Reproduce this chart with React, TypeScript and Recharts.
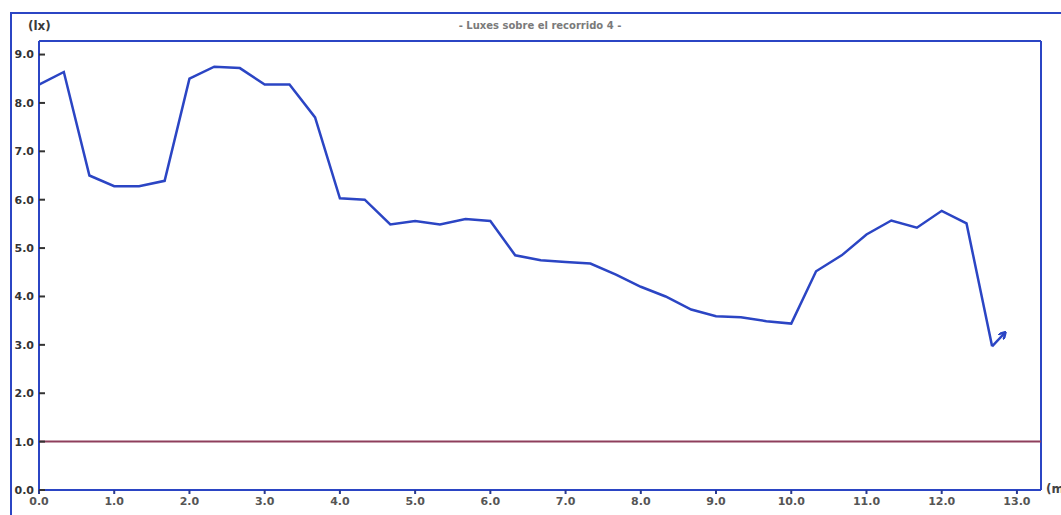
import React from 'react';
import { LineChart, Line, XAxis, YAxis, ReferenceLine } from 'recharts';

const distances = [
  0, 0.33, 0.67, 1.0, 1.33, 1.67, 2.0, 2.33, 2.67, 3.0, 3.33, 3.67, 4.0,
  4.33, 4.67, 5.0, 5.33, 5.67, 6.0, 6.33, 6.67, 7.0, 7.33, 7.67, 8.0,
  8.33, 8.67, 9.0, 9.33, 9.67, 10.0, 10.33, 10.67, 11.0, 11.33, 11.67,
  12.0, 12.33, 12.67,
];
const luxes = [
  8.38, 8.64, 6.5, 6.28, 6.28, 6.39, 8.5, 8.75, 8.72, 8.38, 8.38, 7.7, 6.03,
  6.0, 5.49, 5.56, 5.49, 5.6, 5.56, 4.85, 4.75, 4.71, 4.68, 4.45, 4.2,
  4.0, 3.73, 3.59, 3.57, 3.49, 3.44, 4.52, 4.85, 5.28, 5.57, 5.42,
  5.77, 5.51, 2.97,
];
const arrowX = [12.67, 12.84];
const arrowY = [2.97, 3.25];
const xTicks = [0, 1, 2, 3, 4, 5, 6, 7, 8, 9, 10, 11, 12, 13];
const yTicks = [0, 1, 2, 3, 4, 5, 6, 7, 8, 9];
const minLevel = 1.0;

const data = distances.map((d, i) => ({ d, lx: luxes[i] }));
const arrowData = arrowX.map((d, i) => ({ d, lx: arrowY[i] }));

const BLUE = '#2b45c4';
const X_MAX = 13.32;
const Y_MAX = 9.28;

const App: React.FC = () => {
  return (
    <div style={{ position: 'absolute', left: 0, top: 0, width: 1061, height: 515, overflow: 'hidden', background: '#fff' }}>
      {/* outer frame */}
      <div style={{ position: 'absolute', left: 10, top: 12, width: 1100, height: 600, borderLeft: `2px solid ${BLUE}`, borderTop: `2px solid ${BLUE}` }} />
      <div style={{ position: 'absolute', left: 28, top: 19, fontFamily: 'DejaVu Sans', fontSize: 12, fontWeight: 'bold', color: '#3a3a3a' }}>(lx)</div>
      <div style={{ position: 'absolute', left: 0, width: 1080, top: 20, textAlign: 'center', fontFamily: 'DejaVu Sans', fontSize: 10, fontWeight: 'bold', color: '#7a7a7a' }}>
        - Luxes sobre el recorrido 4 -
      </div>
      <div style={{ position: 'absolute', left: 1046, top: 482, fontFamily: 'DejaVu Sans', fontSize: 12, fontWeight: 'bold', color: '#444' }}>(m)</div>
      <div style={{ position: 'absolute', left: 0, top: 0 }}>
        <LineChart width={1061} height={515} margin={{ top: 41, right: 20, bottom: 0, left: 9 }}>
          <defs>
            <marker id="arrowHead" markerWidth="8" markerHeight="8" refX="6" refY="4" orient="auto" markerUnits="userSpaceOnUse">
              <path d="M0,0 L7,4 L0,8" fill="none" stroke={BLUE} strokeWidth={2.5} />
            </marker>
          </defs>
          <XAxis
            dataKey="d"
            type="number"
            domain={[0, X_MAX]}
            ticks={xTicks}
            allowDataOverflow
            height={25}
            tickFormatter={(v: number) => v.toFixed(1)}
            axisLine={{ stroke: BLUE, strokeWidth: 2 }}
            tickLine={{ stroke: '#2a3a90', strokeWidth: 2 }}
            tickSize={4}
            tickMargin={3}
            tick={{ fontFamily: 'DejaVu Sans', fontSize: 11, fill: '#555', fontWeight: 'bold' }}
          />
          <YAxis
            dataKey="lx"
            type="number"
            domain={[0, Y_MAX]}
            ticks={yTicks}
            allowDataOverflow
            width={30}
            tickFormatter={(v: number) => v.toFixed(1)}
            axisLine={{ stroke: BLUE, strokeWidth: 2 }}
            tickLine={{ stroke: '#333', strokeWidth: 2 }}
            tickSize={-6}
            tickMargin={11}
            tick={{ fontFamily: 'DejaVu Sans', fontSize: 11, fill: '#333', fontWeight: 'bold' }}
          />
          <ReferenceLine y={Y_MAX} stroke={BLUE} strokeWidth={2} ifOverflow="visible" />
          <ReferenceLine x={X_MAX} stroke={BLUE} strokeWidth={2} ifOverflow="visible" />
          <ReferenceLine y={minLevel} stroke="#8e3f5c" strokeWidth={2} />
          <Line
            data={data}
            dataKey="lx"
            type="linear"
            stroke={BLUE}
            strokeWidth={2.5}
            dot={false}
            activeDot={false}
            isAnimationActive={false}
          />
          <Line
            data={arrowData}
            dataKey="lx"
            type="linear"
            stroke={BLUE}
            strokeWidth={2.5}
            dot={false}
            activeDot={false}
            markerEnd="url(#arrowHead)"
            isAnimationActive={false}
          />
        </LineChart>
      </div>
    </div>
  );
};

export default App;
